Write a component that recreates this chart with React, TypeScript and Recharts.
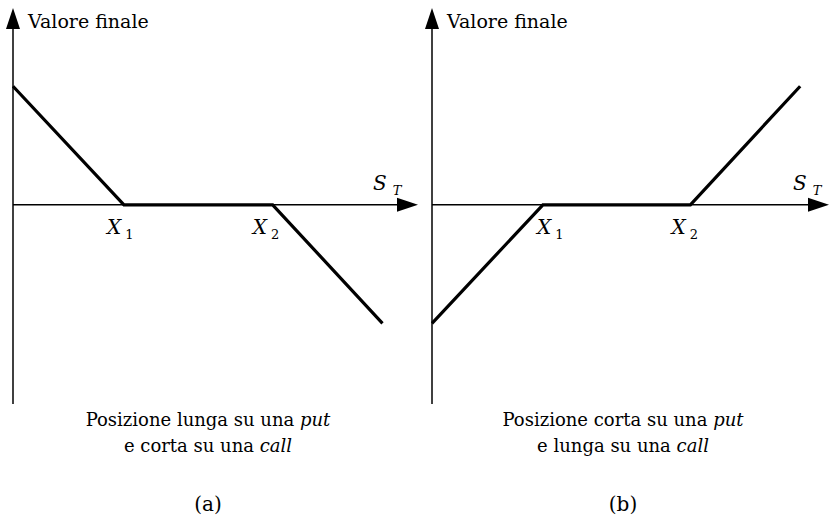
import { LineChart, Line, XAxis, YAxis, ReferenceLine, ReferenceDot } from 'recharts'

// payoff diagrams: S_T on x, final value on y (arbitrary units)
const sA = [0, 10, 23.4, 33.3]
const payoffA = [10, 0, 0, -10]
const sB = [0, 10, 23.3, 33.2]
const payoffB = [-10, 0, 0, 10]

const strikesA = [10, 23.4]
const strikesB = [10, 23.3]
const strikeLabels = ['1', '2']

const yDomain: [number, number] = [-16.8, 16.6]
const xMaxA = 36.5
const xMaxB = 35.8

const captionA = ['Posizione lunga su una ', 'put', 'e corta su una ', 'call', '(a)']
const captionB = ['Posizione corta su una ', 'put', 'e lunga su una ', 'call', '(b)']

// only serif face that resolves in the sandbox
const FONT = 'DejaVu Serif'

const toRows = (s: number[], v: number[]) => s.map((x, i) => ({ s: x, v: v[i] }))

function ArrowAxis(props: any) {
  const { x1, y1, x2, y2 } = props
  const dx = x2 - x1
  const dy = y2 - y1
  const len = Math.sqrt(dx * dx + dy * dy) || 1
  const ux = dx / len
  const uy = dy / len
  const head = 21
  const half = 7
  const bx = x2 - ux * head
  const by = y2 - uy * head
  const pts = [
    `${x2},${y2}`,
    `${bx - uy * half},${by + ux * half}`,
    `${bx + uy * half},${by - ux * half}`,
  ].join(' ')
  return (
    <g>
      <line x1={x1} y1={y1} x2={bx} y2={by} stroke="#000" strokeWidth={1.5} />
      <polygon points={pts} fill="#000" />
    </g>
  )
}

function StrikeLabel({ cx, cy, sub, dx }: any) {
  return (
    <text x={cx + dx} y={cy + 29} style={{ fontFamily: FONT }} fill="#000">
      <tspan fontSize={20} fontStyle="italic">X</tspan>
      <tspan fontSize={13} dx={4} dy={5}>{sub}</tspan>
    </text>
  )
}

function Panel({ s, v, strikes, labelDx, sDx, xMax, width, margin }: any) {
  return (
    <LineChart width={width} height={520} data={toRows(s, v)} margin={margin}>
      <XAxis type="number" dataKey="s" domain={[0, xMax]} hide />
      <YAxis type="number" domain={yDomain} hide />
      <ReferenceLine
        segment={[{ x: 0, y: yDomain[0] }, { x: 0, y: yDomain[1] }]}
        ifOverflow="visible"
        shape={ArrowAxis}
      />
      <ReferenceLine
        segment={[{ x: 0, y: 0 }, { x: xMax, y: 0 }]}
        ifOverflow="visible"
        shape={ArrowAxis}
      />
      <ReferenceDot
        x={0}
        y={yDomain[1]}
        r={0}
        ifOverflow="visible"
        shape={(p: any) => (
          <text x={p.cx + 15} y={p.cy + 20} style={{ fontFamily: FONT }} fontSize={19} fill="#000">
            Valore finale
          </text>
        )}
      />
      <ReferenceDot
        x={xMax}
        y={0}
        r={0}
        ifOverflow="visible"
        shape={(p: any) => (
          <text x={p.cx + sDx} y={p.cy - 15} style={{ fontFamily: FONT }} fill="#000" fontStyle="italic">
            <tspan fontSize={20}>S</tspan>
            <tspan fontSize={13} dx={6} dy={5}>T</tspan>
          </text>
        )}
      />
      {strikes.map((k: number, i: number) => (
        <ReferenceDot
          key={k}
          x={k}
          y={0}
          r={0}
          ifOverflow="visible"
          shape={(p: any) => <StrikeLabel {...p} sub={strikeLabels[i]} dx={labelDx[i]} />}
        />
      ))}
      <Line
        type="linear"
        dataKey="v"
        stroke="#000"
        strokeWidth={3.2}
        dot={false}
        isAnimationActive={false}
      />
    </LineChart>
  )
}

function Caption({ lines, center }: { lines: string[]; center: number }) {
  const box = { position: 'absolute' as const, left: center - 200, width: 400, textAlign: 'center' as const, fontFamily: FONT, fontSize: 18, lineHeight: '26px', color: '#000' }
  return (
    <>
      <div style={{ ...box, top: 407 }}>
        {lines[0]}<i>{lines[1]}</i>
      </div>
      <div style={{ ...box, top: 433 }}>
        {lines[2]}<i>{lines[3]}</i>
      </div>
      <div style={{ ...box, top: 491, fontSize: 20 }}>{lines[4]}</div>
    </>
  )
}

export default function App() {
  return (
    <div style={{ position: 'absolute', left: 0, top: 0, width: 829, height: 520, background: '#fff', overflow: 'hidden' }}>
      <div style={{ position: 'absolute', left: 0, top: 0 }}>
        <Panel s={sA} v={payoffA} strikes={strikesA} labelDx={[-17, -20]} sDx={-45} xMax={xMaxA} width={420} margin={{ top: 8, right: 2, bottom: 116, left: 13 }} />
      </div>
      <div style={{ position: 'absolute', left: 419, top: 0 }}>
        <Panel s={sB} v={payoffB} strikes={strikesB} labelDx={[-6, -19]} sDx={-36} xMax={xMaxB} width={410} margin={{ top: 8, right: 0, bottom: 116, left: 13 }} />
      </div>
      <Caption lines={captionA} center={208} />
      <Caption lines={captionB} center={623} />
    </div>
  )
}
